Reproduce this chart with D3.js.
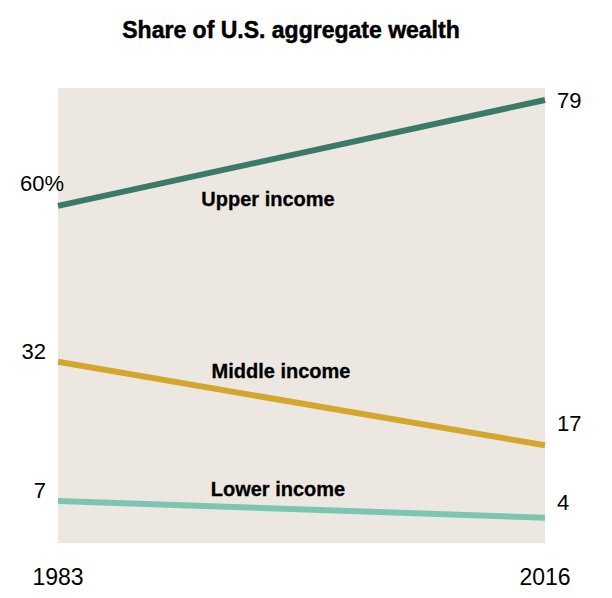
<!DOCTYPE html>
<html><head><meta charset="utf-8">
<script src="https://cdn.jsdelivr.net/npm/d3@7"></script>
<style>body{margin:0;background:#fff}text{font-family:"Liberation Sans",Arial,sans-serif}</style>
</head><body><div id="chart"></div>
<script>
var years = [1983, 2016];
var series = ["Upper income", "Middle income", "Lower income"];
var values = [[60, 79], [32, 17], [7, 4]];
var startLabels = ["60%", "32", "7"];
var endLabels = ["79", "17", "4"];
var colors = ["#3b7a69", "#d3a72f", "#7cc6b1"];

var svg = d3.select("#chart").append("svg").attr("width", 612).attr("height", 598);

var x = d3.scaleLinear().domain(years).range([58, 545]);
var y = d3.scaleLinear().domain([0, 79]).range([540, 100]);

svg.append("rect").attr("x", 58).attr("y", 88).attr("width", 487).attr("height", 455).attr("fill", "#ece8e1");

svg.append("text").attr("x", 291).attr("y", 38).attr("text-anchor", "middle")
  .attr("font-size", 23).attr("font-weight", "bold").attr("stroke", "#000").attr("stroke-width", 0.5)
  .text("Share of U.S. aggregate wealth");

var line = d3.line().x(function(d, i) { return x(years[i]); }).y(function(d) { return y(d); });

values.forEach(function(v, k) {
  svg.append("path").attr("d", line(v)).attr("stroke", colors[k]).attr("stroke-width", 6)
    .attr("fill", "none");
  svg.append("text").attr("x", x(years[1]) + 12).attr("y", y(v[1]) + (k == 1 ? -14 : (k == 2 ? -8 : 8)))
    .attr("font-size", 22).text(endLabels[k]);
  svg.append("text").attr("x", k == 0 ? 64 : 46).attr("y", y(v[0]) + (k == 0 ? -15 : -3))
    .attr("text-anchor", "end").attr("font-size", 22).text(startLabels[k]);
});

var labelPos = [[268, 206], [281, 378], [278, 496]];
series.forEach(function(s, k) {
  svg.append("text").attr("x", labelPos[k][0]).attr("y", labelPos[k][1]).attr("text-anchor", "middle")
    .attr("font-size", 20).attr("font-weight", "bold").attr("stroke", "#000").attr("stroke-width", 0.3)
    .text(s);
});

years.forEach(function(yr) {
  svg.append("text").attr("x", x(yr)).attr("y", 585).attr("text-anchor", "middle")
    .attr("font-size", 23).text(yr);
});
</script></body></html>
